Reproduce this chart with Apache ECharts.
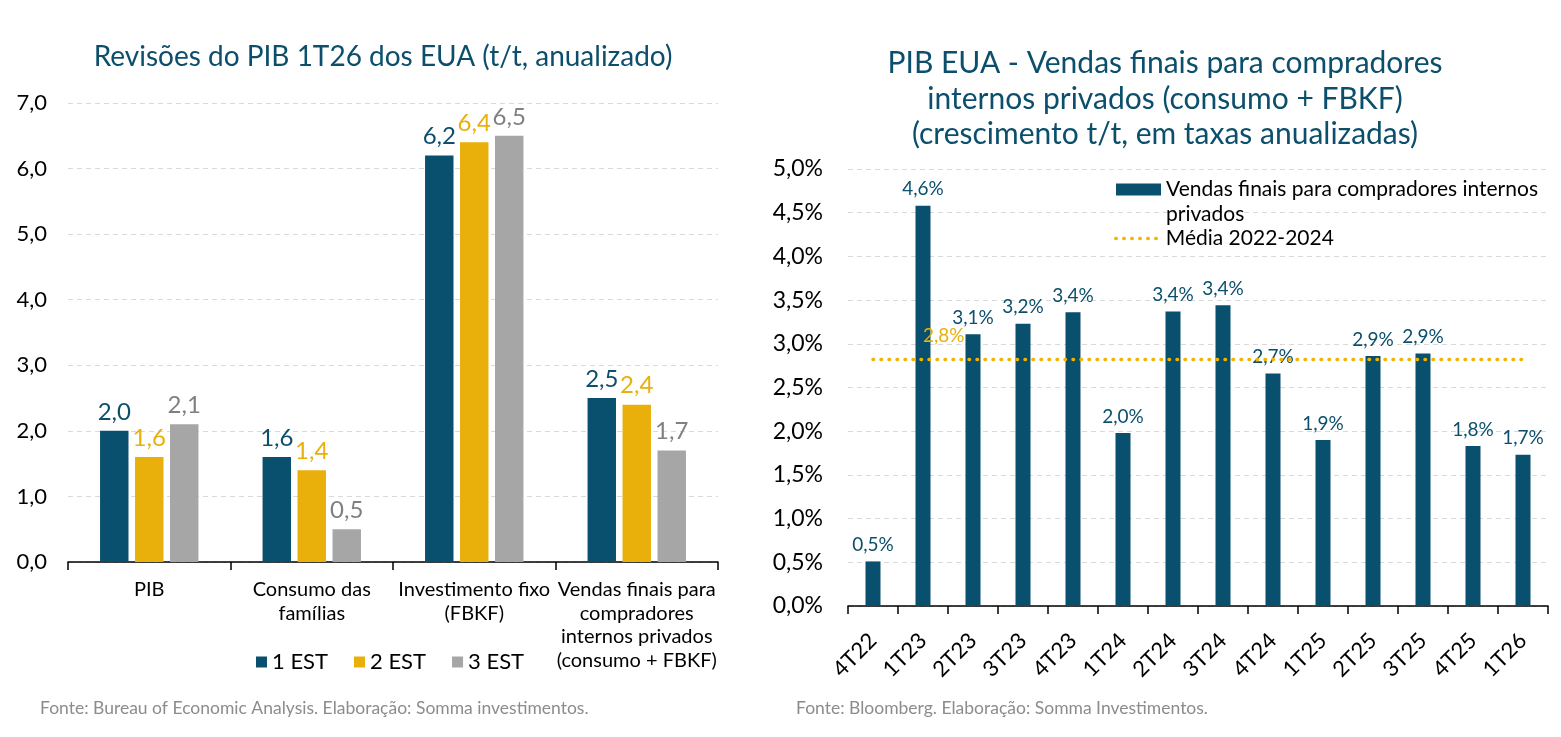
<!DOCTYPE html>
<html>
<head>
<meta charset="utf-8">
<script src="https://cdn.jsdelivr.net/npm/echarts@6/dist/echarts.min.js"></script>
<style>
  html, body { margin: 0; padding: 0; background: #fff; }
  #chart { width: 1561px; height: 737px; }
</style>
</head>
<body>
<div id="chart"></div>
<script>
// gráfico da esquerda: revisões do PIB
const categoriasPIB = ['PIB', 'Consumo das\nfamílias', 'Investimento fixo\n(FBKF)', 'Vendas finais para\ncompradores\ninternos privados\n(consumo + FBKF)'];
const est1 = [2.0, 1.6, 6.2, 2.5];
const est2 = [1.6, 1.4, 6.4, 2.4];
const est3 = [2.1, 0.5, 6.5, 1.7];
const nomesEst = ['1 EST', '2 EST', '3 EST'];

// gráfico da direita: vendas finais
const trimestres = ['4T22', '1T23', '2T23', '3T23', '4T23', '1T24', '2T24', '3T24', '4T24', '1T25', '2T25', '3T25', '4T25', '1T26'];
const vendasFinais = [0.51, 4.58, 3.11, 3.23, 3.36, 1.98, 3.37, 3.44, 2.66, 1.90, 2.86, 2.89, 1.83, 1.73];
const media2224 = 2.82;
const mediaSerie = trimestres.map(() => media2224);

const AZUL = '#08506E';
const AMARELO = '#E9AF0A';
const CINZA = '#A6A6A6';
const FONTE = 'Lato, "Noto Sans", sans-serif';

const virgula = (v, d) => v.toFixed(d).replace('.', ',');

const chart = echarts.init(document.getElementById('chart'));

function barEst(name, data, color, labelColor) {
    return {
        name: name,
        type: 'bar',
        xAxisIndex: 0,
        yAxisIndex: 0,
        data: data,
        barWidth: '17.5%',
        barGap: '23%',
        itemStyle: { color: color },
        label: {
            show: true,
            position: 'top',
            distance: 7,
            color: labelColor,
            fontSize: 24,
            fontFamily: FONTE,
            formatter: p => virgula(p.value, 1)
        }
    }
}

chart.setOption({
    animation: false,
    textStyle: { fontFamily: FONTE },
    title: [{
        text: 'Revisões do PIB 1T26 dos EUA (t/t, anualizado)',
        left: 378,
        textAlign: 'center',
        top: 38,
        textStyle: { color: '#0B4F6C', fontSize: 28, fontWeight: 'normal', fontFamily: FONTE }
    }, {
        text: 'PIB EUA - Vendas finais para compradores\ninternos privados (consumo + FBKF)\n(crescimento t/t, em taxas anualizadas)',
        left: 1160,
        textAlign: 'center',
        top: 41,
        textStyle: { color: '#0B4F6C', fontSize: 30, fontWeight: 'normal', lineHeight: 35.5, fontFamily: FONTE }
    }, {
        text: 'Fonte: Bureau of Economic Analysis. Elaboração: Somma investimentos.',
        left: 35,
        top: 694,
        textStyle: { color: '#8C8C8C', fontSize: 17.5, fontWeight: 'normal', fontFamily: FONTE }
    }, {
        text: 'Fonte: Bloomberg. Elaboração: Somma Investimentos.',
        left: 791,
        top: 694,
        textStyle: { color: '#8C8C8C', fontSize: 17.5, fontWeight: 'normal', fontFamily: FONTE }
    }],
    legend: [{
        data: nomesEst,
        left: 251,
        top: 646,
        itemWidth: 11,
        itemHeight: 11,
        itemGap: 26,
        icon: 'rect',
        textStyle: { fontSize: 22, color: '#000', fontFamily: FONTE }
    }, {
        data: ['Vendas finais para compradores internos privados'],
        left: 1111,
        top: 147,
        itemWidth: 45,
        itemHeight: 12,
        icon: 'rect',
        formatter: () => '\nVendas finais para compradores internos\nprivados',
        textStyle: { fontSize: 21, color: '#000', lineHeight: 25, fontFamily: FONTE }
    }, {
        data: ['Média 2022-2024'],
        left: 1109,
        top: 223,
        itemWidth: 45,
        itemHeight: 20,
        itemStyle: { opacity: 0 },
        lineStyle: { color: '#F0B400', width: 3.5, type: [0.5, 7.5], cap: 'round' },
        textStyle: { fontSize: 21, color: '#000', fontFamily: FONTE }
    }],
    grid: [{
        left: 68, right: 843, top: 103, bottom: 175
    }, {
        left: 848, right: 13, top: 169, bottom: 131
    }],
    xAxis: [{
        gridIndex: 0,
        type: 'category',
        data: categoriasPIB,
        axisLine: { lineStyle: { color: '#000', width: 1.5 } },
        axisTick: { show: true, length: 8, lineStyle: { color: '#000', width: 1.5 } },
        axisLabel: { interval: 0, color: '#000', fontSize: 20, lineHeight: 23.5, margin: 16, fontFamily: FONTE }
    }, {
        gridIndex: 1,
        type: 'category',
        data: trimestres,
        axisLine: { lineStyle: { color: '#000', width: 1.5 } },
        axisTick: { show: true, length: 8, lineStyle: { color: '#000', width: 1.5 } },
        axisLabel: { interval: 0, rotate: 45, color: '#000', fontSize: 22, margin: 31, fontFamily: FONTE }
    }],
    yAxis: [{
        gridIndex: 0,
        type: 'value',
        min: 0,
        max: 7,
        interval: 1,
        axisLine: { show: false },
        axisTick: { show: false },
        splitLine: { lineStyle: { color: '#D9D9D9', type: [5, 4], width: 1.2 } },
        axisLabel: { color: '#000', fontSize: 22, margin: 21, formatter: v => virgula(v, 1), fontFamily: FONTE }
    }, {
        gridIndex: 1,
        type: 'value',
        min: 0,
        max: 5,
        interval: 0.5,
        axisLine: { show: false },
        axisTick: { show: false },
        splitLine: { lineStyle: { color: '#D9D9D9', type: [5, 4], width: 1.2 } },
        axisLabel: { color: '#000', fontSize: 23, margin: 25, formatter: v => virgula(v, 1) + '%', fontFamily: FONTE }
    }],
    series: [
        barEst(nomesEst[0], est1, AZUL, '#0B4F6C'),
        barEst(nomesEst[1], est2, AMARELO, AMARELO),
        barEst(nomesEst[2], est3, CINZA, '#808080'),
        {
            name: 'Vendas finais para compradores internos privados',
            type: 'bar',
            xAxisIndex: 1,
            yAxisIndex: 1,
            data: vendasFinais,
            barWidth: '30%',
            itemStyle: { color: AZUL },
            label: {
                show: true,
                position: 'top',
                distance: 7,
                color: '#0B4F6C',
                fontSize: 19,
                fontFamily: FONTE,
                formatter: p => virgula(p.value, 1) + '%'
            }
        },
        {
            name: 'Média 2022-2024',
            type: 'line',
            xAxisIndex: 1,
            yAxisIndex: 1,
            data: mediaSerie,
            symbol: 'circle',
            symbolSize: 2,
            showSymbol: true,
            showAllSymbol: true,
            itemStyle: { color: 'rgba(0,0,0,0)', borderWidth: 0 },
            z: 5,
            lineStyle: { color: '#F0B400', width: 3.5, type: [0.5, 7.5], cap: 'round' },
            labelLayout: { hideOverlap: false },
            label: {
                show: true,
                position: 'top',
                distance: 13,
                align: 'left',
                offset: [-5, 0],
                color: AMARELO,
                fontSize: 19,
                fontFamily: FONTE,
                formatter: p => p.dataIndex === 1 ? virgula(p.value, 1) + '%' : ''
            }
        }
    ]
});
</script>
</body>
</html>
